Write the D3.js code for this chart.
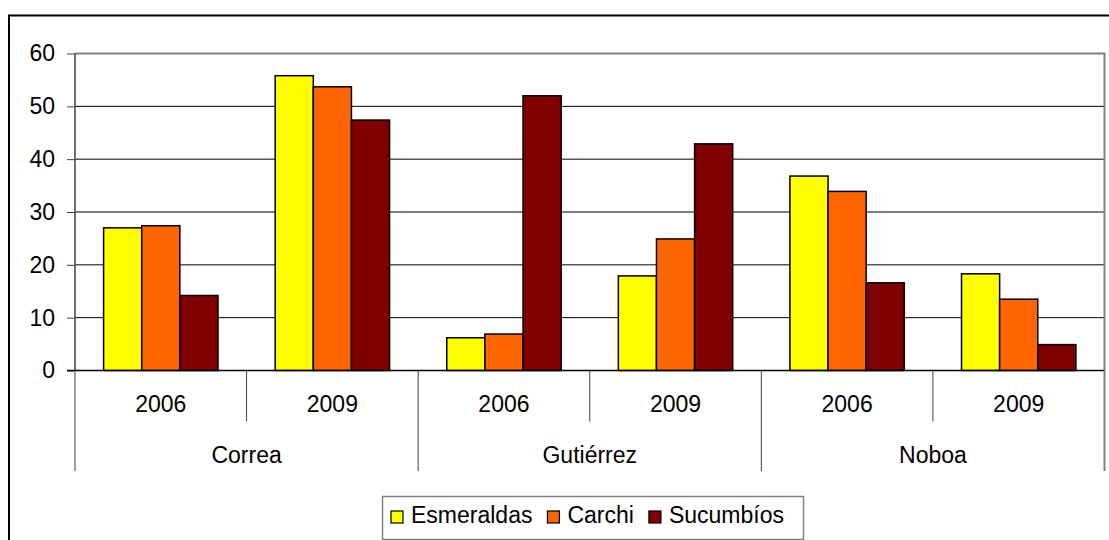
<!DOCTYPE html>
<html>
<head>
<meta charset="utf-8">
<script src="https://cdn.jsdelivr.net/npm/d3@7/dist/d3.min.js"></script>
<style>
  html, body { margin: 0; padding: 0; background: #fff; }
  svg { display: block; }
  text { font-family: "Liberation Sans", Arial, sans-serif; fill: #000; }
</style>
</head>
<body>
<svg id="chart" width="1109" height="540"></svg>
<script>
const groups = ["Correa", "Gutiérrez", "Noboa"];
const years = ["2006", "2009"];
const seriesNames = ["Esmeraldas", "Carchi", "Sucumbíos"];
const seriesColors = ["#FFFF00", "#FF6600", "#800000"];
const esmeraldas = [27.0, 55.8, 6.2, 17.9, 36.8, 18.3];
const carchi     = [27.4, 53.7, 6.9, 24.9, 33.9, 13.5];
const sucumbios  = [14.2, 47.4, 52.0, 42.9, 16.6, 4.9];
const yTicks = [0, 10, 20, 30, 40, 50, 60];

const seriesValues = [esmeraldas, carchi, sucumbios];
const cats = [];
groups.forEach(g => years.forEach(y => cats.push(g + "|" + y)));

const svg = d3.select("#chart");
const FS = 23;

// outer chart border
svg.append("rect").attr("x", 9).attr("y", 15.5).attr("width", 1120).attr("height", 560)
  .attr("fill", "none").attr("stroke", "#000").attr("stroke-width", 2);

const L = 75, R = 1104.5, T = 53.5, B = 370.5;
const x = d3.scaleBand().domain(cats).range([L, R]).padding(0);
const bw = x.bandwidth();
const xs = d3.scaleBand().domain(seriesNames).range([bw / 6, bw - bw / 6]).padding(0);
const y = d3.scaleLinear().domain([0, 60]).range([B, T]);

// gridlines
svg.append("g").selectAll("line").data(yTicks.filter(t => t > 0 && t < 60)).join("line")
  .attr("x1", L).attr("x2", R).attr("y1", d => y(d)).attr("y2", d => y(d))
  .attr("stroke", "#000").attr("stroke-width", 1);

// plot area border (top, right)
svg.append("path").attr("d", `M${L},${T}H${R}V${B}`)
  .attr("fill", "none").attr("stroke", "#808080").attr("stroke-width", 2);

// bars
const barG = svg.append("g");
seriesNames.forEach((s, si) => {
  barG.append("g").selectAll("rect").data(seriesValues[si]).join("rect")
    .attr("x", (d, i) => x(cats[i]) + xs(s))
    .attr("y", d => y(d))
    .attr("width", xs.bandwidth())
    .attr("height", d => y(0) - y(d))
    .attr("fill", seriesColors[si])
    .attr("stroke", "#000").attr("stroke-width", 1.5);
});

// y axis
const yAxis = d3.axisLeft(y).tickValues(yTicks).tickSize(8).tickPadding(12).tickFormat(d3.format("d"));
const yg = svg.append("g").attr("transform", `translate(${L},0)`).call(yAxis);
yg.select(".domain").attr("stroke", "#404040").attr("stroke-width", 1.5).attr("d", `M0,${T}V${B}`);
yg.selectAll(".tick line").attr("stroke", "#404040").attr("stroke-width", 1);
yg.selectAll(".tick text").style("font-size", FS + "px").style("font-family", '"Liberation Sans", Arial, sans-serif').attr("fill", "#000");

// x axis baseline
svg.append("line").attr("x1", L - 8).attr("x2", R).attr("y1", B).attr("y2", B)
  .attr("stroke", "#000").attr("stroke-width", 1.5);

// year labels
svg.append("g").selectAll("text").data(cats).join("text")
  .attr("x", d => x(d) + bw / 2).attr("y", 404).attr("dy", "0.35em")
  .attr("text-anchor", "middle").style("font-size", FS + "px")
  .text(d => d.split("|")[1]);

// year dividers
const gw = bw * years.length;
svg.append("g").selectAll("line").data(groups).join("line")
  .attr("x1", (g) => x(g + "|" + years[1])).attr("x2", (g) => x(g + "|" + years[1]))
  .attr("y1", B).attr("y2", 421.5).attr("stroke", "#404040").attr("stroke-width", 1);

// group dividers
const gb = groups.map(g => x(g + "|" + years[0])).concat([R]);
svg.append("g").selectAll("line").data(gb).join("line")
  .attr("x1", d => d).attr("x2", d => d).attr("y1", B).attr("y2", 471)
  .attr("stroke", (d, i) => i === gb.length - 1 ? "#808080" : "#404040")
  .attr("stroke-width", (d, i) => i === gb.length - 1 ? 2 : 1);

// group labels
svg.append("g").selectAll("text").data(groups).join("text")
  .attr("x", g => x(g + "|" + years[0]) + gw / 2).attr("y", 455).attr("dy", "0.35em")
  .attr("text-anchor", "middle").style("font-size", FS + "px")
  .text(g => g);

// legend
const lg = svg.append("g");
lg.append("rect").attr("x", 382.5).attr("y", 496.5).attr("width", 421).attr("height", 43)
  .attr("fill", "#fff").attr("stroke", "#808080").attr("stroke-width", 1.5);
let cx = 391;
seriesNames.forEach((s, i) => {
  lg.append("rect").attr("x", cx).attr("y", 511).attr("width", 12).attr("height", 12)
    .attr("fill", seriesColors[i]).attr("stroke", "#000").attr("stroke-width", 1.2);
  const t = lg.append("text").attr("x", cx + 20).attr("y", 522.5)
    .style("font-size", FS + "px").text(s);
  cx = cx + 20 + t.node().getComputedTextLength() + 15;
});
</script>
</body>
</html>
